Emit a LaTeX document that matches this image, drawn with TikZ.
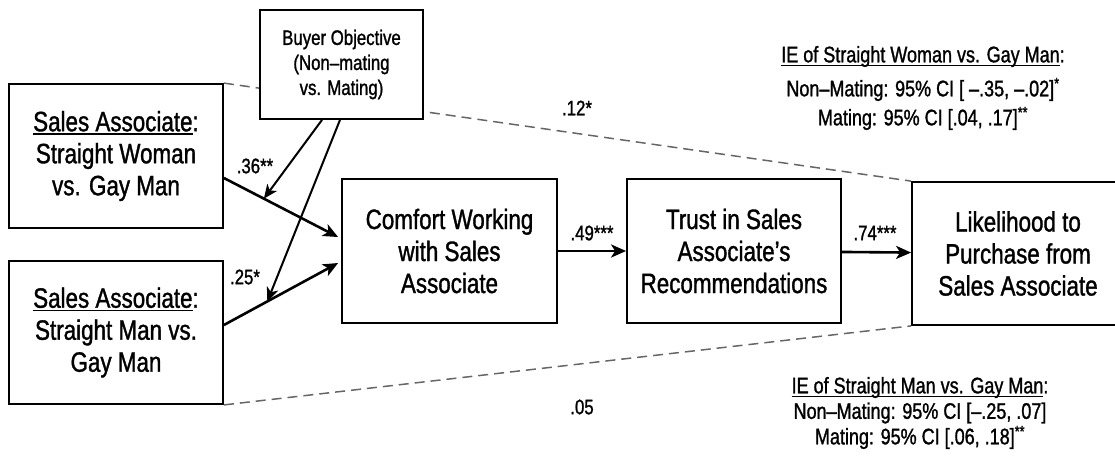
\documentclass[tikz,border=0pt]{standalone}
\usepackage{fontspec}
\setmainfont{Liberation Sans}[FakeStretch=0.8, RawFeature={embolden=1.2}]
\usetikzlibrary{calc,arrows.meta}
\newcommand{\boxfont}{\fontsize{28}{32}\selectfont}
\newcommand{\smallfont}{\fontsize{21}{25}\selectfont}
\newcommand{\labelfont}{\fontsize{21}{25}\selectfont}
\newcommand{\iefont}{\fontsize{22.5}{29}\selectfont}
\newcommand{\ulbar}[1]{\setbox0\hbox{#1}\leavevmode\rlap{\rule[-3.5pt]{\wd0}{1.3pt}}\box0}
\newcommand{\pathdraw}[2]{\draw[line width=2.6pt, -{Stealth[length=15pt,width=13pt,inset=4pt]}] (#1) -- (#2)}
\tikzset{boite/.style={draw, line width=1.8pt, fill=white, minimum width=#1, minimum height=144pt, align=center, font=\boxfont, inner sep=0pt}}

\begin{document}
\begin{tikzpicture}[x=1pt, y=-1pt]
                \useasboundingbox (0,0) rectangle (1115,464);

                \node[boite=214pt] (sa1) at (116,156) {\ulbar{Sales Associate}:\\Straight Woman\\vs. Gay Man};
                \node[boite=214pt, minimum height=143pt] (sa2) at (116,332.5) {\ulbar{Sales Associate}:\\Straight Man vs.\\Gay Man};
                \node[boite=215pt] (comfort) at (449.5,251) {Comfort Working\\with Sales\\Associate};
                \node[boite=214pt] (trust) at (734,251) {Trust in Sales\\Associate's\\Recommendations};
                \node[boite=212pt, minimum height=143pt] (lik) at (1018,253.5) {Likelihood to\\Purchase from\\Sales Associate};

                \draw[dash pattern=on 10pt off 6pt, line width=1.5pt, black!60] (sa1.north east) -- (lik.north west);
                \draw[dash pattern=on 10pt off 6pt, line width=1.5pt, black!60] (sa2.south east) -- (lik.south west);

                \node[boite=163pt, minimum height=109pt, font=\smallfont] (buyer) at (341.5,64.5) {Buyer Objective\\(Non--mating\\vs. Mating)};

                \pathdraw{$(sa1.east)+(0,22)$}{$(comfort.west)+(-3,-14)$} coordinate[pos=0.35] (m1);
                \pathdraw{$(sa2.east)+(0,-7.5)$}{$(comfort.west)+(-3,12)$} coordinate[pos=0.38] (m2);
                \pathdraw{comfort}{trust};
                \pathdraw{trust}{lik};

                \draw[line width=2pt, -{Stealth[length=14pt,width=12pt,inset=4pt]}] ([xshift=-19.5pt]buyer.south) -- (m1);
                \draw[line width=2pt, -{Stealth[length=14pt,width=12pt,inset=4pt]}] ([xshift=-1.5pt]buyer.south) -- (m2);

                \node[font=\labelfont] (b36) at (255,166) {.36**};
                \node[font=\labelfont] (b25) at (245,277) {.25*};
                \node[font=\labelfont] (b49) at (592,233) {.49***};
                \node[font=\labelfont] (b74) at (875,233) {.74***};
                \node[font=\labelfont] (b12) at (577,108) {.12*};
                \node[font=\labelfont] (b05) at (582,407) {.05};

                \node[font=\iefont, align=center] (ie1) at (923,88) {\ulbar{IE of Straight Woman vs. Gay Man}:\\[5pt]Non--Mating: 95\% CI [ --.35, --.02]\textsuperscript{*}\\Mating: 95\% CI [.04, .17]\textsuperscript{**}};
                \node[font=\fontsize{22.5}{25.5}\selectfont, align=center] (ie2) at (920,413) {\ulbar{IE of Straight Man vs. Gay Man}:\\Non--Mating: 95\% CI [--.25, .07]\\Mating: 95\% CI [.06, .18]\textsuperscript{**}};
            \end{tikzpicture}
\end{document}
